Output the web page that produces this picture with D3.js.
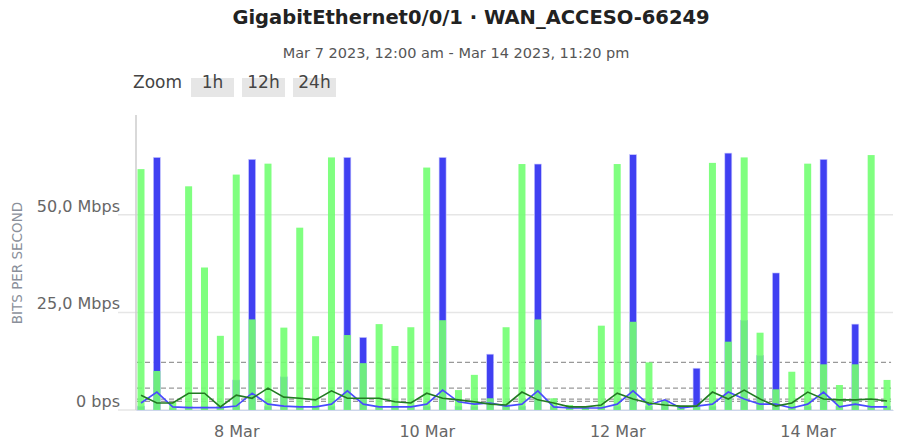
<!DOCTYPE html>
<html><head><meta charset="utf-8">
<script src="https://cdn.jsdelivr.net/npm/d3@7"></script>
<style>
html,body{margin:0;padding:0;background:#fff;}
svg{display:block;font-family:"DejaVu Sans",Verdana,sans-serif;}
</style></head>
<body><svg id="c" width="898" height="442"></svg>
<script>
// ---- data (Mbps) ----
const title = "GigabitEthernet0/0/1 · WAN_ACCESO-66249";
const subtitle = "Mar 7 2023, 12:00 am - Mar 14 2023, 11:20 pm";
const zoomButtons = ["1h","12h","24h"];
const startTime = new Date(2023,2,7,0,0);
const stepHours = 4;
const inBars = [61.7,10.0,2.0,57.3,36.5,19.0, 60.3,23.2,63.1,21.1,46.7,18.9,
                64.7,19.2,12.0,22.0,16.4,21.2, 62.1,23.0,5.1,9.0,3.0,21.2,
                63.0,23.2,3.0,1.3,0.6,21.6, 63.0,22.6,12.2,2.4,1.0,1.3,
                63.3,17.5,64.7,19.8,5.3,9.8, 63.1,11.7,6.4,11.7,65.3,7.7];
const outBars = [1.0,64.7,0.5,1.0,1.0,1.0, 7.7,64.2,1.0,8.5,1.0,1.0,
                 1.0,64.7,18.6,1.0,1.0,1.0, 1.0,64.7,1.0,1.0,14.3,1.0,
                 1.0,63.0,1.0,1.0,0.5,1.0, 1.0,65.4,1.0,2.5,1.0,10.7,
                 1.0,65.8,23.0,14.0,35.1,1.0, 1.0,64.2,1.0,22.0,1.0,1.0];
const inAvg = [3.8,1.8,1.8,4.3,4.3,0.8, 3.8,3.0,5.6,3.3,3.0,2.6,
               4.9,3.0,3.0,3.0,2.1,1.8, 4.3,3.0,2.6,2.1,1.5,1.3,
               4.6,2.6,1.8,0.8,0.8,1.3, 4.3,2.8,1.8,1.3,1.0,1.0,
               4.6,2.8,5.1,2.8,1.0,1.8, 4.6,2.8,2.6,2.6,2.8,2.3];
const outAvg = [1.8,4.6,0.8,0.6,0.6,0.6, 1.0,4.3,1.5,1.0,0.8,0.8,
                1.5,4.9,1.5,0.8,0.8,0.8, 1.5,5.1,2.1,1.5,1.8,1.0,
                1.5,4.9,0.8,0.5,0.5,0.5, 1.5,4.9,1.3,2.6,0.5,1.0,
                1.5,4.6,2.8,1.5,1.5,0.5, 1.5,4.6,0.8,1.5,0.8,0.8];
const refLines = [12.2, 5.6, 2.8, 2.2];
const yTicks = [0, 25, 50];
const yTickLabels = ["0 bps","25,0 Mbps","50,0 Mbps"];
const xTickDates = [new Date(2023,2,8), new Date(2023,2,10), new Date(2023,2,12), new Date(2023,2,14)];

// ---- layout ----
const svg = d3.select("#c");
const L = 136, R = 893, T = 115, B = 410;
const hour = 3600e3;
const times = inBars.map((d,i)=> new Date(+startTime + i*stepHours*hour));
const x = d3.scaleTime()
  .domain([new Date(+startTime - 1.26*hour), new Date(+startTime + 189.5*hour)])
  .range([L, R]);
const y = d3.scaleLinear().domain([0, 75]).range([B, B - 3*97.6]);

// title
svg.append("text").attr("x",471).attr("y",24).attr("text-anchor","middle")
  .attr("font-size",19.5).attr("font-weight","bold").attr("fill","#222").text(title);
svg.append("text").attr("x",456).attr("y",58).attr("text-anchor","middle")
  .attr("font-size",14.5).attr("fill","#555").text(subtitle);

// zoom buttons
svg.append("text").attr("x",133).attr("y",88).attr("font-size",17).attr("fill","#444").text("Zoom");
const btnX = [191, 242, 293];
zoomButtons.forEach((b,i)=>{
  svg.append("rect").attr("x",btnX[i]).attr("y",78).attr("width",43).attr("height",19).attr("fill","#e6e6e6");
  svg.append("text").attr("x",btnX[i]+21.5).attr("y",88).attr("text-anchor","middle")
    .attr("font-size",17).attr("fill","#444").text(b);
});

// grid
const g = svg.append("g");
yTicks.forEach((t,i)=>{
  g.append("line").attr("x1",118).attr("x2",R).attr("y1",y(t)).attr("y2",y(t))
    .attr("stroke","#e6e6e6").attr("stroke-width",1.5);
  g.append("text").attr("x",120).attr("y",y(t)-3).attr("text-anchor","end")
    .attr("font-size",16).attr("fill","#666").text(yTickLabels[i]);
});
g.append("line").attr("x1",L).attr("x2",L).attr("y1",T).attr("y2",B)
  .attr("stroke","#ccc").attr("stroke-width",1.5);

// axis title
svg.append("text").attr("transform","translate(22,263) rotate(-90)").attr("text-anchor","middle")
  .attr("font-size",13.5).attr("fill","#8a8f9a").text("BITS PER SECOND");

// ref dashed lines
refLines.forEach(v=>{
  g.append("line").attr("x1",x(times[0])-4).attr("x2",x(times[times.length-1])+4)
   .attr("y1",y(v)).attr("y2",y(v)).attr("stroke","#999").attr("stroke-width",1.3)
   .attr("stroke-dasharray","5,3");
});

// bars
const bw = 7;
svg.append("g").selectAll("rect").data(outBars).join("rect")
  .attr("x",(d,i)=>x(times[i])-bw/2).attr("y",d=>y(d)).attr("width",bw)
  .attr("height",d=>B-y(d)).attr("fill","#4040f2").attr("stroke","#c8c8ff").attr("stroke-width",0.6);
svg.append("g").selectAll("rect").data(inBars).join("rect")
  .attr("x",(d,i)=>x(times[i])-bw/2).attr("y",d=>y(d)).attr("width",bw)
  .attr("height",d=>B-y(d)).attr("fill","#72ff72").attr("fill-opacity",0.9);

// avg lines
const line = d3.line().x((d,i)=>x(times[i])).y(d=>y(d));
svg.append("path").datum(outAvg).attr("d",line).attr("fill","none").attr("stroke","#4a4aff").attr("stroke-width",1.6);
svg.append("path").datum(inAvg).attr("d",line).attr("fill","none").attr("stroke","#237a23").attr("stroke-width",1.6);

// x axis
const xa = svg.append("g").attr("transform",`translate(0,${B})`)
  .call(d3.axisBottom(x).tickValues(xTickDates).tickFormat(d3.timeFormat("%-d %b")).tickSize(0).tickPadding(15.5));
xa.select(".domain").attr("stroke","#ccd6eb");
xa.selectAll("text").attr("font-size",16).attr("fill","#666").attr("font-family","DejaVu Sans, Verdana, sans-serif");
</script></body></html>
